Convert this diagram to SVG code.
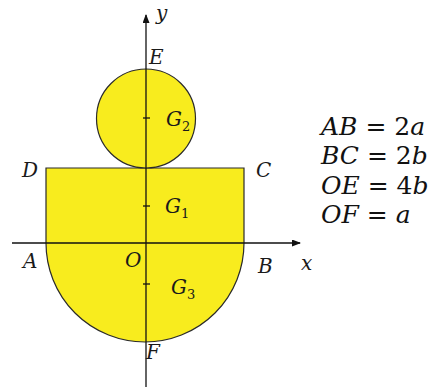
<svg xmlns="http://www.w3.org/2000/svg" width="432" height="387" viewBox="0 0 432 387">
<defs>
<style>
.shape{fill:#f8ec1e;stroke:#2a2a2a;stroke-width:1.2}
.ax{stroke:#111;stroke-width:1.3;fill:none}
.lbl{font-style:italic;font-size:20px;fill:#1a1a1a}
.sub{font-style:normal;font-size:13px}
.eq{font-size:25px;fill:#111}
.it{font-style:italic}
</style>
<marker id="arr" markerWidth="9" markerHeight="7" refX="8" refY="3.5" orient="auto" markerUnits="userSpaceOnUse">
<path d="M0,0 L9,3.5 L0,7 z" fill="#111"/>
</marker>
</defs>
<rect width="432" height="387" fill="#fff"/>
<g id="shapes">
<path class="shape" d="M46,168 H244 V243 A99,99 0 0 1 46,243 Z"/>
<circle class="shape" cx="146" cy="118.5" r="49.5"/>
</g>
<g id="connectors">
<line class="ax" x1="12" y1="243" x2="300" y2="243" marker-end="url(#arr)"/>
<line class="ax" x1="146" y1="387" x2="146" y2="15" marker-end="url(#arr)"/>
<line class="ax" x1="143" y1="118" x2="150" y2="118"/>
<line class="ax" x1="143" y1="206" x2="150" y2="206"/>
<line class="ax" x1="143" y1="284" x2="150" y2="284"/>
</g>
<g id="labels" font-family="DejaVu Serif, serif">
<text class="lbl" x="156" y="20">y</text>
<text class="lbl" x="149" y="64">E</text>
<text class="lbl" x="166" y="126">G<tspan class="sub" dy="5">2</tspan></text>
<text class="lbl" x="22" y="177">D</text>
<text class="lbl" x="256" y="177">C</text>
<text class="lbl" x="165" y="213">G<tspan class="sub" dy="5">1</tspan></text>
<text class="lbl" x="23" y="268">A</text>
<text class="lbl" x="125" y="267">O</text>
<text class="lbl" x="258" y="273">B</text>
<text class="lbl" x="301" y="270">x</text>
<text class="lbl" x="171" y="294">G<tspan class="sub" dy="5">3</tspan></text>
<text class="lbl" x="146" y="359">F</text>
</g>
<g id="equations" font-family="DejaVu Serif, serif">
<text class="eq" x="321" y="135"><tspan class="it">AB</tspan> = 2<tspan class="it">a</tspan></text>
<text class="eq" x="321" y="164"><tspan class="it">BC</tspan> = 2<tspan class="it">b</tspan></text>
<text class="eq" x="321" y="194"><tspan class="it">OE</tspan> = 4<tspan class="it">b</tspan></text>
<text class="eq" x="321" y="223"><tspan class="it">OF</tspan> = <tspan class="it">a</tspan></text>
</g>
</svg>
